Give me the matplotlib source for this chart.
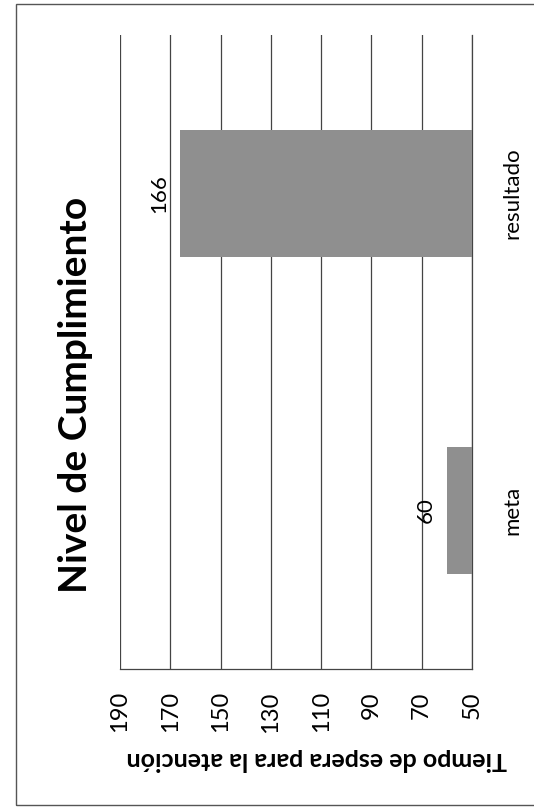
import matplotlib
matplotlib.use("Agg")
import matplotlib.pyplot as plt
from matplotlib.patches import Rectangle

categories = ["meta", "resultado"]
values = [60, 166]
value_ticks = [50, 70, 90, 110, 130, 150, 170, 190]
title = "Nivel de Cumplimiento"
value_label = "Tiempo de espera para la atención"

W, H = 534, 809
plt.rcParams['font.family'] = ['Lato', 'DejaVu Sans']
fig = plt.figure(figsize=(W / 100, H / 100), dpi=100)
fig.patch.set_facecolor("white")

def fx(px):
    return px / W

def fy(py):
    return 1 - py / H

# outer frame
fig.patches.append(Rectangle((fx(16), fy(805)), fx(560) - fx(16), fy(4) - fy(805),
                             transform=fig.transFigure, fill=False,
                             edgecolor="#555555", linewidth=1.0))

ax = fig.add_axes([fx(120), fy(669), fx(472) - fx(120), fy(35) - fy(669)])
ypos = list(range(len(categories)))
ax.barh(ypos, values, height=0.4, color="#8f8f8f", zorder=3)
ax.set_xlim(190, 50)
ax.set_ylim(-0.5, len(categories) - 0.5)
ax.set_xticks(value_ticks)
ax.set_xticklabels([str(v) for v in value_ticks], rotation=90, fontsize=17)
ax.tick_params(axis='x', length=0, pad=16)
ax.yaxis.tick_right()
ax.set_yticks(ypos)
ax.set_yticklabels(categories, rotation=90, va='center', fontsize=16)
ax.tick_params(axis='y', length=0, pad=22)
ax.grid(axis='x', color="#444444", linewidth=0.9, zorder=0)
for s in ["top", "left"]:
    ax.spines[s].set_visible(False)
for s in ["bottom", "right"]:
    ax.spines[s].set_color("#444444")
    ax.spines[s].set_linewidth(0.9)

for y, v in zip(ypos, values):
    ax.annotate(str(v), (v, y), xytext=(-15, 0), textcoords="offset points",
                rotation=90, ha='center', va='center', fontsize=16)

fig.text(fx(76), fy(395), title, rotation=90, ha='center', va='center',
         fontsize=28, fontweight='bold')
fig.text(fx(317), fy(760), value_label, rotation=180, ha='center', va='center',
         fontsize=18, fontweight='bold')

fig.savefig("out.png", dpi=100, facecolor="white")
